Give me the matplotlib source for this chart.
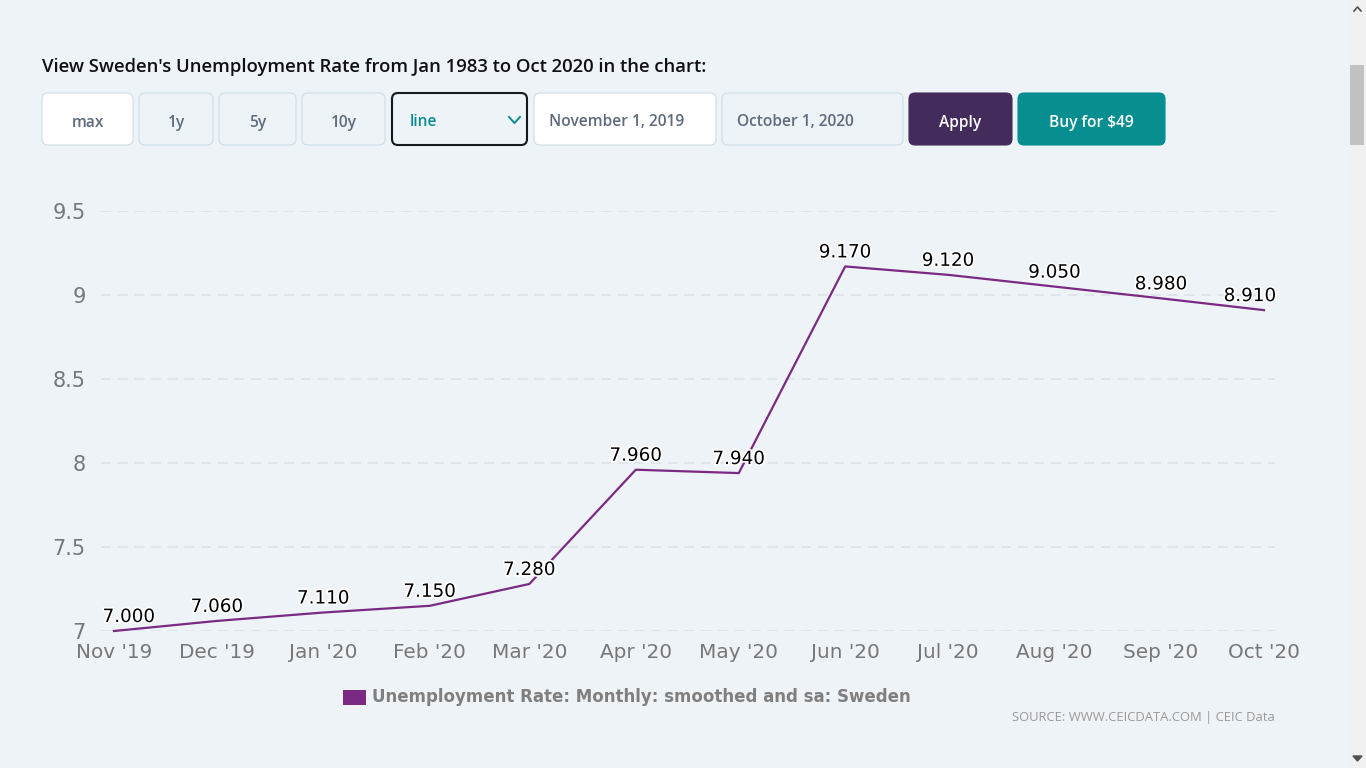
import matplotlib.patheffects as pe
import numpy as np
from matplotlib import pyplot as plt
from matplotlib.patches import FancyBboxPatch, Rectangle

dates = np.array(["2019-11-01", "2019-12-01", "2020-01-01", "2020-02-01", "2020-03-01", "2020-04-01",
                  "2020-05-01", "2020-06-01", "2020-07-01", "2020-08-01", "2020-09-01", "2020-10-01"],
                 dtype="datetime64[D]")
months = ["Nov '19", "Dec '19", "Jan '20", "Feb '20", "Mar '20", "Apr '20",
          "May '20", "Jun '20", "Jul '20", "Aug '20", "Sep '20", "Oct '20"]
rate = [7.00, 7.06, 7.11, 7.15, 7.28, 7.96, 7.94, 9.17, 9.12, 9.05, 8.98, 8.91]
y_ticks = [7, 7.5, 8, 8.5, 9, 9.5]
y_tick_labels = ["7", "7.5", "8", "8.5", "9", "9.5"]

bg = "#eef3f8"
W, H = 1366, 768

fig = plt.figure(figsize=(W / 100, H / 100), dpi=100, facecolor=bg)

# overlay in pixel coords for the page around the chart
page = fig.add_axes([0, 0, 1, 1])
page.set_xlim(0, W)
page.set_ylim(H, 0)
page.axis("off")


def button(x0, x1, face, edge, text, tcolor, lw=0.8, tx=None, ty=123):
    page.add_patch(FancyBboxPatch((x0 + 5, 93 + 5), x1 - x0 - 10, 52 - 10,
                                  boxstyle="round,pad=5,rounding_size=6",
                                  fc=face, ec=edge, lw=lw))
    page.text((x0 + x1) / 2 if tx is None else tx, ty, text, color=tcolor,
              fontsize=11.2, family="Open Sans", weight="semibold", va="center",
              ha="center" if tx is None else "left")


page.text(42, 67, "View Sweden's Unemployment Rate from Jan 1983 to Oct 2020 in the chart:",
          fontsize=13.3, family="Open Sans", weight="semibold", color="#101014", va="center")

button(42, 133, "white", "#cfdde6", "max", "#5f6b7c")
button(139, 213, bg, "#cfdde6", "1y", "#5f6b7c")
button(219, 296, bg, "#cfdde6", "5y", "#5f6b7c")
button(302, 385, bg, "#cfdde6", "10y", "#5f6b7c")
button(392, 527, bg, "#15181c", "line", "#0b8a8f", lw=1.5, ty=122, tx=410)
button(534, 716, "white", "#cfdde6", "November 1, 2019", "#5f6b7c", ty=122, tx=549)
button(722, 903, bg, "#cfdde6", "October 1, 2020", "#5f6b7c", ty=122, tx=737)
button(909, 1012, "#432c5c", "#432c5c", "Apply", "white")
button(1018, 1165, "#068e90", "#068e90", "Buy for $49", "white")
page.plot([509, 514.5, 520], [117, 123, 117], color="#0b8a8f", lw=1.4)

# scrollbar
page.add_patch(Rectangle((1349, 0), 17, H, fc="#f1f1f1", ec="none"))
page.add_patch(Rectangle((1350, 65), 14, 80, fc="#c1c1c1", ec="none"))
page.plot([1354, 1357.5, 1361], [11, 7, 11], color="#505050", lw=1.2)
page.fill([1353, 1362, 1357.5], [756, 756, 761], color="#505050")

# legend and source
page.add_patch(Rectangle((343, 690), 23, 15, fc="#7a2a82", ec="none"))
page.text(372, 697, "Unemployment Rate: Monthly: smoothed and sa: Sweden", fontsize=12,
          weight="bold", color="#7f7f7f", va="center")
page.text(1275, 717, "SOURCE: WWW.CEICDATA.COM | CEIC Data", fontsize=9.35, family="Open Sans",
          color="#999999", va="center", ha="right")

# chart, a real time axis so months keep their uneven spacing
ax = fig.add_axes([101 / W, 1 - 631 / H, (1275 - 101) / W, 420 / H])
ax.patch.set_alpha(0)
ax.set_xlim(dates[0] - np.timedelta64(91, "h"), dates[-1] + np.timedelta64(77, "h"))
ax.set_ylim(7, 9.5)
for s in ax.spines.values():
    s.set_visible(False)
ax.set_yticks(y_ticks, y_tick_labels)
ax.set_xticks(dates, months)
ax.tick_params(length=0)
ax.tick_params(axis="y", labelsize=15, labelcolor="#777777", pad=11)
ax.tick_params(axis="x", labelsize=14.4, labelcolor="#777777", pad=9)
ax.grid(axis="y", color="#dde3e8", lw=1.2, ls=(0, (6, 4)))
ax.set_axisbelow(True)
ax.plot(dates, rate, color="#7a2a82", lw=1.6, clip_on=False)

for i, v in enumerate(rate):
    # first and last labels are pushed back inside the plot
    shift = 15 if i == 0 else -14 if i == len(rate) - 1 else 0
    ax.annotate(f"{v:.3f}", (dates[i], v), xytext=(shift * 0.72, 3.6), textcoords="offset points",
                ha="center", va="bottom", fontsize=13.2, color="black",
                path_effects=[pe.withStroke(linewidth=2.5, foreground="white")])

plt.savefig("out.png", dpi=100, facecolor=bg)
